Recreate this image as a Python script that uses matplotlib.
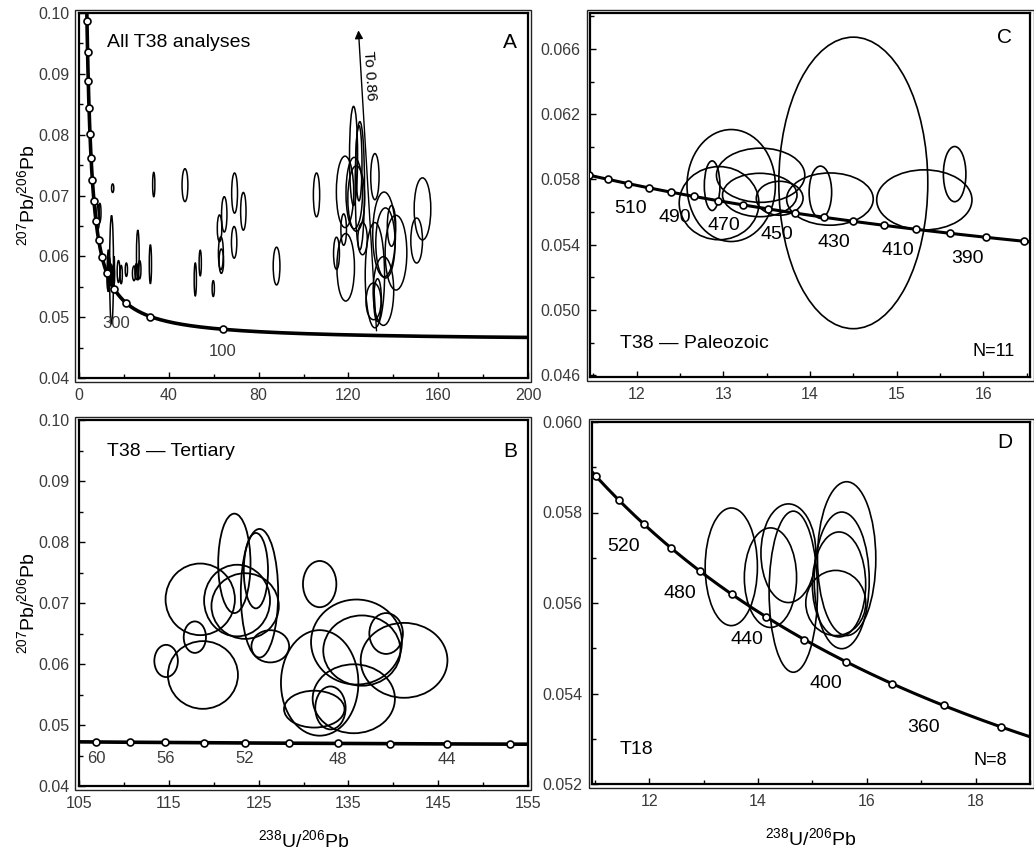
import numpy as np
import matplotlib.pyplot as plt
from matplotlib.patches import Ellipse, Rectangle

plt.rcParams['font.family'] = ['Liberation Sans', 'DejaVu Sans']
plt.rcParams['mathtext.fontset'] = 'custom'
plt.rcParams['mathtext.rm'] = 'Liberation Sans'
plt.rcParams['mathtext.it'] = 'Liberation Sans:italic'

# decay constants (1/yr) and 238U/235U used for the Tera-Wasserburg concordia
L238 = 1.55125e-10
L235 = 9.8485e-10
U85 = 137.88

# ---- T38 Tertiary analyses (panel B, also in A): centre and half-axes
tert_x = [114.7, 117.9, 118.8, 118.5, 122.3, 122.6, 123.5, 124.7, 125.1, 126.3,
          131.8, 131.8, 131.2, 133.0, 135.6, 135.9, 136.5, 139.2, 141.2]
tert_y = [0.0605, 0.0644, 0.0582, 0.0706, 0.0765, 0.0704, 0.0695, 0.0753, 0.0716, 0.0629,
          0.0731, 0.0569, 0.0526, 0.0528, 0.0543, 0.0636, 0.0622, 0.0650, 0.0606]
tert_sx = [1.31, 1.24, 3.90, 3.86, 1.80, 3.67, 3.75, 1.35, 2.08, 2.10,
           1.86, 4.31, 3.37, 1.69, 4.58, 5.06, 4.30, 1.87, 4.83]
tert_sy = [0.00264, 0.00258, 0.00555, 0.00587, 0.00815, 0.00587, 0.00538, 0.00618, 0.01054, 0.00264,
           0.00379, 0.00865, 0.00302, 0.00352, 0.00565, 0.00697, 0.00576, 0.00335, 0.00614]

# ---- T38 Paleozoic analyses (panel C, also in A)
paleo_x = [14.50, 13.09, 12.95, 12.87, 13.43, 13.42, 13.65, 14.23, 14.12, 15.32, 15.67]
paleo_y = [0.05779, 0.05763, 0.05655, 0.05762, 0.05826, 0.05705, 0.05685, 0.05680, 0.05722, 0.05675, 0.05833]
paleo_sx = [0.86, 0.51, 0.46, 0.09, 0.51, 0.43, 0.27, 0.50, 0.13, 0.55, 0.13]
paleo_sy = [0.00893, 0.00343, 0.00224, 0.00152, 0.00166, 0.00133, 0.00104, 0.00160, 0.00160, 0.00184, 0.00169]

# ---- other T38 analyses, only in panel A
other_x = [105.8, 150.4, 153.0, 88.0, 69.3, 73.2, 64.7, 62.6, 69.1, 63.2, 63.4, 47.2, 33.3,
           15.0, 54.0, 51.8, 59.8, 31.8, 26.2, 24.5, 25.6, 27.0, 21.1, 8.5, 9.3, 17.6, 18.8]
other_y = [0.0701, 0.0626, 0.0678, 0.0584, 0.0704, 0.0674, 0.0669, 0.0646, 0.0623, 0.0605, 0.0592,
           0.0717, 0.0718, 0.0712, 0.0589, 0.0562, 0.0547, 0.0587, 0.0602, 0.0572, 0.0575, 0.0578,
           0.0578, 0.0665, 0.0672, 0.0575, 0.0570]
other_sx = [1.4, 2.6, 3.7, 1.5, 1.3, 1.2, 1.2, 1.0, 1.2, 1.1, 1.0, 1.3, 0.5,
            0.5, 0.5, 0.5, 0.5, 0.5, 0.6, 0.7, 0.7, 0.6, 0.5, 0.6, 0.5, 0.6, 0.5]
other_sy = [0.0036, 0.0037, 0.0051, 0.0031, 0.0033, 0.0031, 0.0029, 0.0022, 0.0026, 0.0027, 0.0020,
            0.0027, 0.0020, 0.0007, 0.0021, 0.0027, 0.0013, 0.0032, 0.0041, 0.0012, 0.0013, 0.0015,
            0.0011, 0.0020, 0.0015, 0.0018, 0.0015]

# ---- T18 analyses (panel D)
t18_x = [13.51, 14.23, 14.56, 14.65, 15.63, 15.54, 15.49, 15.43]
t18_y = [0.0568, 0.05656, 0.0571, 0.05625, 0.05698, 0.0565, 0.05641, 0.0560]
t18_sx = [0.48, 0.48, 0.505, 0.445, 0.536, 0.505, 0.49, 0.551]
t18_sy = [0.0013, 0.0011, 0.00109, 0.00178, 0.0017, 0.00151, 0.00116, 0.00072]

# concordia age ticks (Ma) and labelled ages
ticks_A = list(range(100, 1700, 100))
labels_A = [300, 100]
ticks_B = list(range(42, 64, 2))
labels_B = [60, 56, 52, 48, 44]
ticks_C = list(range(370, 550, 10))
labels_C = [510, 490, 470, 450, 430, 410, 390]
ticks_D = list(range(340, 580, 20))
labels_D = [520, 480, 440, 400, 360]


def concordia(t_ma):
    t = np.asarray(t_ma, dtype=float) * 1e6
    e8 = np.expm1(L238 * t)
    e5 = np.expm1(L235 * t)
    return 1.0 / e8, e5 / e8 / U85


W, H = 1034, 852
fig = plt.figure(figsize=(W / 100, H / 100), dpi=100)

axA = fig.add_axes([79 / W, 1 - 378 / H, 449 / W, 365 / H])
axB = fig.add_axes([79 / W, 1 - 786 / H, 449 / W, 366 / H])
axC = fig.add_axes([590 / W, 1 - 377 / H, 440 / W, 364 / H])
axD = fig.add_axes([592 / W, 1 - 784 / H, 438 / W, 362 / H])

TICK_C = '#3a3a3a'


def style(ax, xlim, ylim, xmaj, xmin, ymaj, ymin, yfmt):
    ax.set_xlim(*xlim)
    ax.set_ylim(*ylim)
    ax.set_xticks(xmaj)
    ax.set_xticks(xmin, minor=True)
    ax.set_yticks(ymaj)
    ax.set_yticks(ymin, minor=True)
    ax.set_yticklabels([yfmt.format(v) for v in ymaj])
    ax.tick_params(which='both', direction='in', top=False, right=False,
                   labelsize=11.5, labelcolor=TICK_C, pad=7)
    ax.tick_params(which='major', length=4, width=1)
    ax.tick_params(which='minor', length=3, width=1)
    for s in ax.spines.values():
        s.set_linewidth(1.6)
    bb = ax.get_position()
    dx, dy = 3.5 / W, 3.5 / H
    fig.add_artist(Rectangle((bb.x0 - dx, bb.y0 - dy), bb.width + 2 * dx, bb.height + 2 * dy,
                             transform=fig.transFigure, fill=False, lw=1.0, ec='#222222'))


def ellipses(ax, xs, ys, sxs, sys, lw=1.1):
    for x, y, sx, sy in zip(xs, ys, sxs, sys):
        ax.add_patch(Ellipse((x, y), 2 * sx, 2 * sy, fill=False, ec='black', lw=lw, zorder=2))


def curve(ax, t0, t1, tick_ages, lw, ms):
    ages = np.geomspace(t0, t1, 800)
    cx, cy = concordia(ages)
    ax.plot(cx, cy, color='black', lw=lw, zorder=3)
    mx, my = concordia(tick_ages)
    ax.plot(mx, my, 'o', ms=ms, mfc='white', mec='black', mew=1.2, zorder=4)


# ---------------- panel A
style(axA, (0, 200), (0.04, 0.10), np.arange(0, 201, 40), np.arange(20, 200, 40),
      np.arange(0.04, 0.1001, 0.01), np.arange(0.045, 0.1, 0.01), '{:.2f}')
curve(axA, 20, 1800, ticks_A, 2.6, 5)
ellipses(axA, tert_x, tert_y, tert_sx, tert_sy)
ellipses(axA, paleo_x, paleo_y, paleo_sx, paleo_sy)
ellipses(axA, other_x, other_y, other_sx, other_sy)
axA.annotate('', xy=(124.4, 0.0976), xytext=(132.6, 0.0473),
             arrowprops=dict(arrowstyle='-|>', color='black', lw=1.0, mutation_scale=12))
axA.text(129.2, 0.0897, 'To 0.86', rotation=-86.6, fontsize=11, ha='center', va='center')
for a in labels_A:
    lx, ly = concordia(a)
    axA.annotate(str(a), (lx, ly), textcoords='offset pixels',
                 xytext=(-10, -21) if a == 300 else (0, -22),
                 ha='center', va='center', fontsize=12, color=TICK_C)
axA.text(0.062, 0.918, 'All T38 analyses', transform=axA.transAxes, fontsize=14, va='center')
axA.text(0.96, 0.918, 'A', transform=axA.transAxes, fontsize=15, ha='center', va='center')
axA.set_ylabel(r'$^{207}$Pb/$^{206}$Pb', fontsize=14, labelpad=0)

# ---------------- panel B
style(axB, (105, 155), (0.04, 0.10), np.arange(105, 156, 10), np.arange(110, 155, 10),
      np.arange(0.04, 0.1001, 0.01), np.arange(0.045, 0.1, 0.01), '{:.2f}')
curve(axB, 38, 66, ticks_B, 2.6, 5)
ellipses(axB, tert_x, tert_y, tert_sx, tert_sy, lw=1.3)
for a in labels_B:
    lx, ly = concordia(a)
    axB.annotate(str(a), (lx, ly), textcoords='offset pixels', xytext=(0, -16),
                 ha='center', va='center', fontsize=12, color=TICK_C)
axB.text(0.062, 0.913, 'T38 \u2014 Tertiary', transform=axB.transAxes, fontsize=14, va='center')
axB.text(0.96, 0.913, 'B', transform=axB.transAxes, fontsize=15, ha='center', va='center')
axB.set_ylabel(r'$^{207}$Pb/$^{206}$Pb', fontsize=14, labelpad=0)
axB.set_xlabel(r'$^{238}$U/$^{206}$Pb', fontsize=14, labelpad=13)

# ---------------- panel C
style(axC, (11.46, 16.54), (0.0459, 0.0682), np.arange(12, 16.5, 1), np.arange(11.5, 16.6, 0.5),
      np.arange(0.046, 0.0661, 0.004), np.arange(0.048, 0.0681, 0.004), '{:.3f}')
curve(axC, 350, 580, ticks_C, 2.2, 5)
ellipses(axC, paleo_x, paleo_y, paleo_sx, paleo_sy, lw=1.2)
for a in labels_C:
    lx, ly = concordia(a)
    axC.annotate(str(a), (lx, ly), textcoords='offset pixels', xytext=(-19, -21),
                 ha='center', va='center', fontsize=14)
axC.text(0.068, 0.093, 'T38 \u2014 Paleozoic', transform=axC.transAxes, fontsize=14, va='center')
axC.text(0.966, 0.069, 'N=11', transform=axC.transAxes, fontsize=13, ha='right', va='center')
axC.text(0.943, 0.934, 'C', transform=axC.transAxes, fontsize=15, ha='center', va='center')

# ---------------- panel D
style(axD, (10.95, 19.0), (0.052, 0.060), np.arange(12, 19, 2), np.arange(11, 19.1, 1),
      np.arange(0.052, 0.0601, 0.002), np.arange(0.053, 0.0601, 0.002), '{:.3f}')
curve(axD, 320, 600, ticks_D, 2.2, 5)
ellipses(axD, t18_x, t18_y, t18_sx, t18_sy, lw=1.2)
for a in labels_D:
    lx, ly = concordia(a)
    axD.annotate(str(a), (lx, ly), textcoords='offset pixels', xytext=(-20, -22),
                 ha='center', va='center', fontsize=14)
axD.text(0.064, 0.094, 'T18', transform=axD.transAxes, fontsize=14, va='center')
axD.text(0.947, 0.066, 'N=8', transform=axD.transAxes, fontsize=13, ha='right', va='center')
axD.text(0.943, 0.942, 'D', transform=axD.transAxes, fontsize=15, ha='center', va='center')
axD.set_xlabel(r'$^{238}$U/$^{206}$Pb', fontsize=14, labelpad=13)

fig.savefig('out.png', dpi=100, facecolor='white')
